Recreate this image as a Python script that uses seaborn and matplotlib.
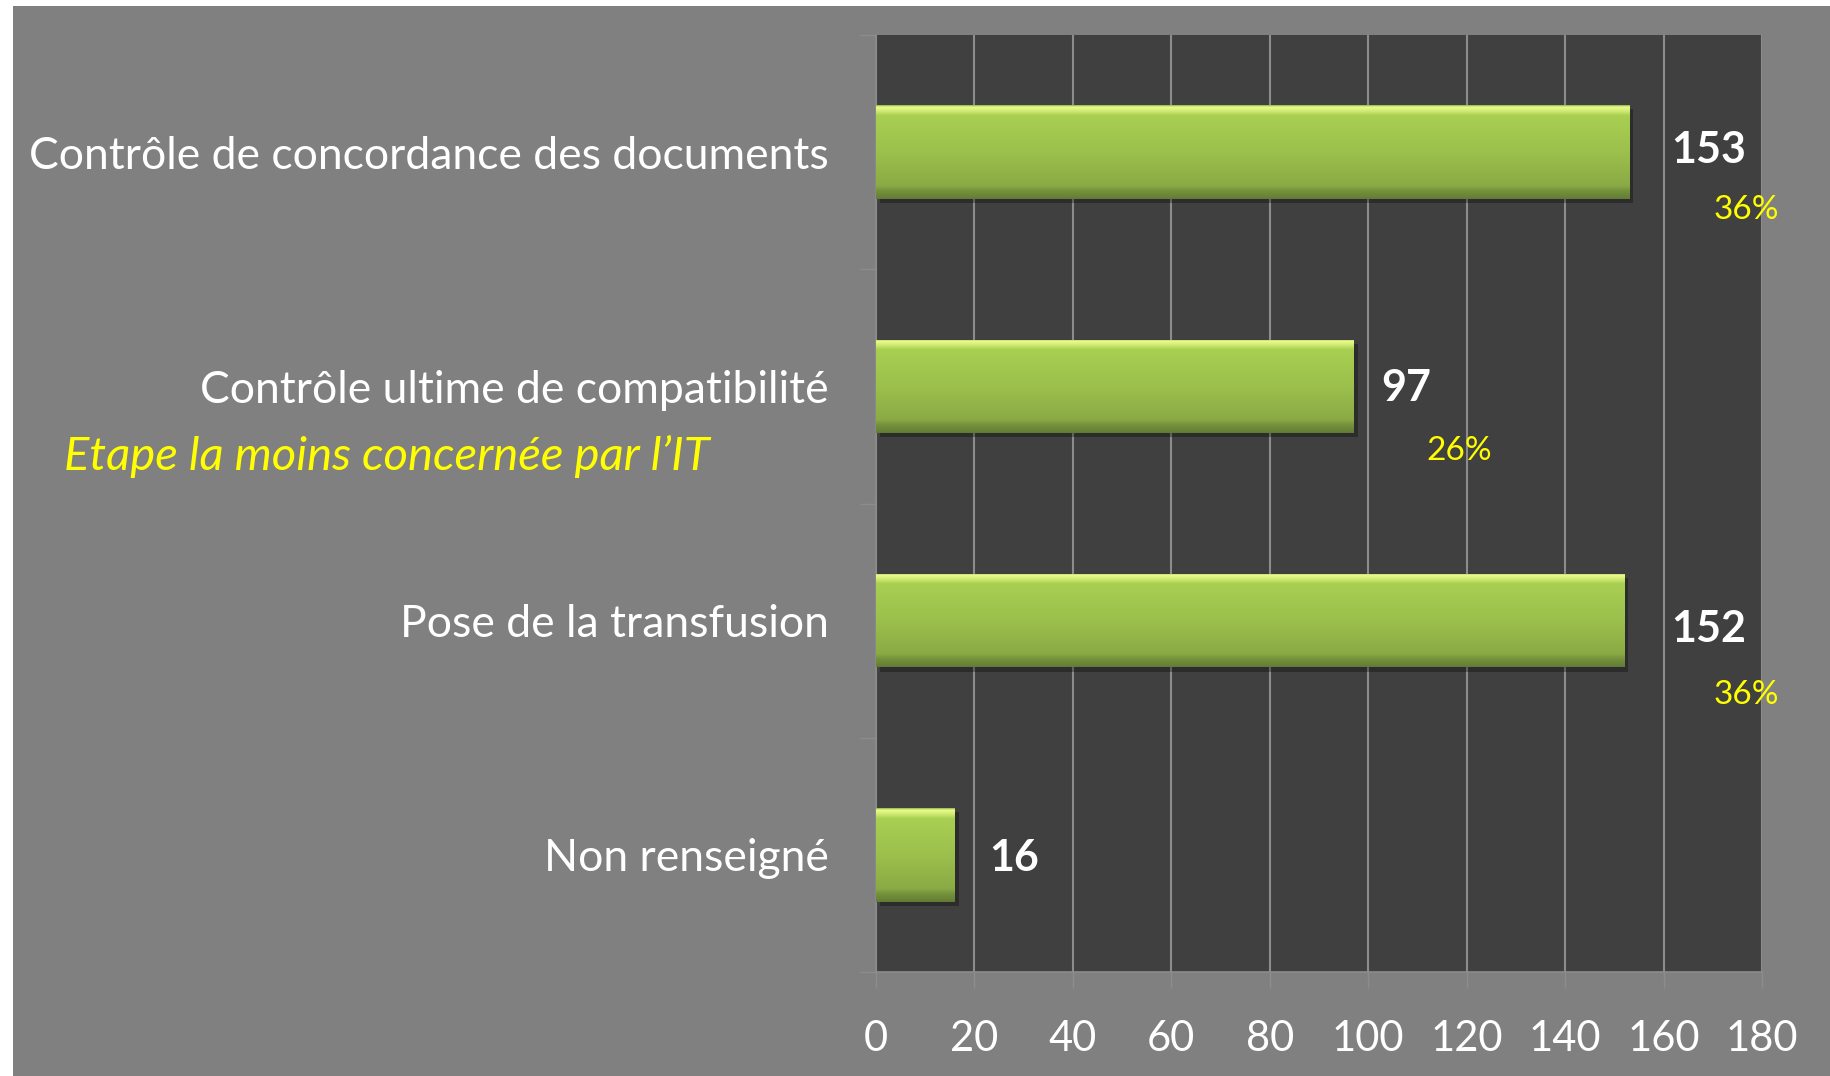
import numpy as np
import pandas as pd
import matplotlib
matplotlib.use("Agg")
import matplotlib.pyplot as plt
import seaborn as sns
from matplotlib.patches import Rectangle
from matplotlib.colors import LinearSegmentedColormap
from matplotlib import patheffects as pe

# ---------------- data ----------------
categories = ["Contrôle de concordance des documents",
              "Contrôle ultime de compatibilité",
              "Pose de la transfusion",
              "Non renseigné"]
counts = [153, 97, 152, 16]
percent_labels = ["36%", "26%", "36%", ""]
x_ticks = [0, 20, 40, 60, 80, 100, 120, 140, 160, 180]
annotation_text = "Etape la moins concernée par l’IT"

# ---------------- layout (pixel offsets of the value labels) ----------------
num_offsets = [(42, -2), (28, 2), (47, 8), (34, 3)]
pct_offsets = [(84, 58), (73, 65), (89, 74), (0, 0)]

W, H = 1830, 1076
sns.set_theme(style="dark")
plt.rcParams['font.family'] = ['Lato', 'DejaVu Sans']

fig = plt.figure(figsize=(W / 100, H / 100), dpi=100, facecolor='white')
fig.patches.append(Rectangle((13 / W, 0), 1 - 13 / W, 1 - 6 / H, transform=fig.transFigure,
                             facecolor='#808080', edgecolor='none', zorder=-10))

ax_l, ax_r, ax_t, ax_b = 876, 1762, 35, 972
ax = fig.add_axes([ax_l / W, 1 - ax_b / H, (ax_r - ax_l) / W, (ax_b - ax_t) / H])
ax.set_facecolor('#404040')

df = pd.DataFrame({"cat": categories, "n": counts})
sns.barplot(data=df, y="cat", x="n", orient="h", color="#9cc24c", width=0.4,
            saturation=1, ax=ax, zorder=3, edgecolor='none')

# bevel-like vertical gradient clipped to each bar
grad_cmap = LinearSegmentedColormap.from_list("bevel", [
    (0.0, '#94b842'), (0.02, '#ecfc92'), (0.06, '#d2ec72'), (0.11, '#a8cf52'),
    (0.5, '#9cc04c'), (0.86, '#8aaa45'), (0.91, '#76933c'), (1.0, '#627c35')])
grad = np.linspace(0, 1, 256).reshape(-1, 1)
for p in list(ax.patches):
    x0, y0, w, h = p.get_x(), p.get_y(), p.get_width(), p.get_height()
    p.set_path_effects([pe.SimplePatchShadow(offset=(3, -3), shadow_rgbFace='black', alpha=0.3),
                        pe.Normal()])
    im = ax.imshow(grad, cmap=grad_cmap, aspect='auto', extent=(x0, x0 + w, y0 + h, y0),
                   zorder=4, interpolation='bilinear')
    im.set_clip_path(p)

ax.set_xlim(0, 180)
ax.set_ylim(3.5, -0.5)
ax.set_xticks(x_ticks)
ax.set_xticklabels([str(t) for t in x_ticks])
ax.set_xlabel("")
ax.set_ylabel("")

# grid & spines
ax.xaxis.grid(True, color='#8c8c8c', lw=1.5, zorder=1)
ax.yaxis.grid(False)
ax.set_axisbelow(True)
for s in ['top', 'right']:
    ax.spines[s].set_visible(False)
for s in ['bottom', 'left']:
    ax.spines[s].set_visible(True)
    ax.spines[s].set_color('#8c8c8c')
    ax.spines[s].set_linewidth(1.2)

ax.tick_params(axis='x', length=11.5, width=1, color='#8c8c8c', pad=23,
               labelsize=30, labelcolor='white', direction='out', bottom=True)
ax.set_yticks(range(len(categories)))
ax.set_yticklabels(categories)
ax.tick_params(axis='y', which='major', length=0, pad=34, labelsize=32, labelcolor='white')
ax.set_yticks(np.arange(-0.5, len(categories), 1.0), minor=True)
ax.tick_params(axis='y', which='minor', length=11.5, width=1, color='#8c8c8c', direction='out', left=True)

# value labels
for i, p in enumerate([pp for pp in ax.patches]):
    xe = p.get_x() + p.get_width()
    yc = p.get_y() + p.get_height() / 2
    dx, dy = num_offsets[i]
    ax.annotate(str(counts[i]), xy=(xe, yc), xytext=(dx, -dy), textcoords='offset pixels',
                ha='left', va='center', fontsize=31, fontweight='bold', color='white', zorder=6)
    if percent_labels[i]:
        dx, dy = pct_offsets[i]
        ax.annotate(percent_labels[i], xy=(xe, yc), xytext=(dx, -dy), textcoords='offset pixels',
                    ha='left', va='center', fontsize=24, color='#ffff00', zorder=6)

# annotation
fig.text(64 / W, 1 - 456 / H, annotation_text, ha='left', va='center', fontsize=34,
         style='italic', color='#ffff00')

fig.savefig("out.png", dpi=100, facecolor=fig.get_facecolor())
